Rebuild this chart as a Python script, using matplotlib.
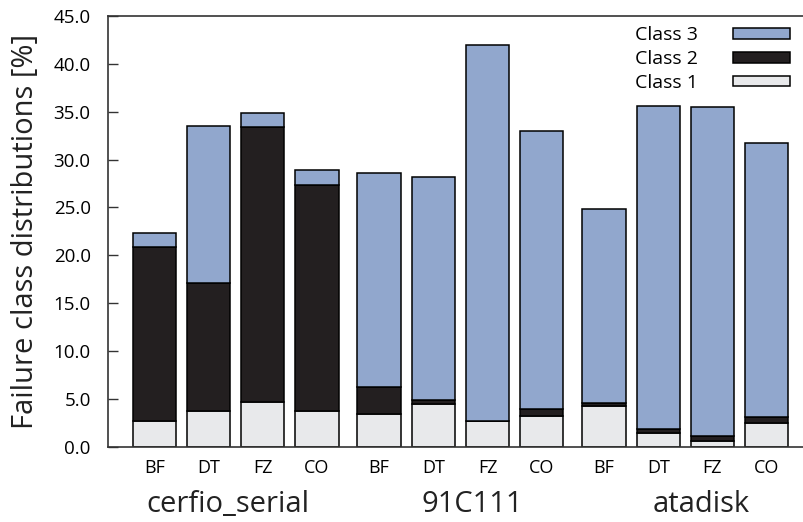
import numpy as np
import matplotlib
matplotlib.use("Agg")
import matplotlib.pyplot as plt
from matplotlib.patches import Patch
from matplotlib.transforms import blended_transform_factory

plt.rcParams['font.family'] = ['Open Sans', 'DejaVu Sans']

# Drivers (groups) and injection techniques (bars within each group)
drivers = ["cerfio_serial", "91C111", "atadisk"]
techniques = ["BF", "DT", "FZ", "CO"]

# Stacked percentages per bar, in driver order (BF, DT, FZ, CO for each driver)
class1 = [2.7, 3.7, 4.7, 3.7,
          3.4, 4.5, 2.7, 3.2,
          4.3, 1.4, 0.6, 2.5]
class2 = [18.2, 13.4, 28.7, 23.6,
          2.8, 0.4, 0.0, 0.7,
          0.3, 0.45, 0.5, 0.6]
class3 = [1.4, 16.4, 1.5, 1.6,
          22.4, 23.3, 39.3, 29.1,
          20.2, 33.7, 34.4, 28.6]

series_names = ["Class 1", "Class 2", "Class 3"]
colors = ["#e8e9eb", "#231f20", "#91a7cd"]

group_step = len(techniques) + 0.15
x = np.array([g * group_step + j for g in range(len(drivers))
              for j in range(len(techniques))])

fig = plt.figure(figsize=(8.04, 5.22), dpi=100)
ax = fig.add_axes([108 / 804, 1 - 446.7 / 522, 696 / 804, 430.7 / 522])

bottom = np.zeros(len(x))
handles = []
for vals, name, col in zip([class1, class2, class3], series_names, colors):
    vals = np.array(vals)
    ax.bar(x, vals, width=0.8, bottom=bottom, color=col,
           edgecolor="black", linewidth=1.1, label=name)
    bottom += vals
    handles.append(Patch(facecolor=col, edgecolor="black", linewidth=1.1, label=name))

ax.set_xlim(-0.854, 11.99)
ax.set_ylim(0, 45)
yt = np.arange(0, 45.1, 5)
ax.set_yticks(yt)
ax.set_yticklabels([f"{v:.1f}" for v in yt], fontsize=13.5)
ax.tick_params(axis="y", direction="in", length=7.5, width=1.0, pad=12.5,
               colors="#333333", labelcolor="black")
ax.set_xticks(x)
ax.set_xticklabels(techniques * len(drivers), fontsize=13)
ax.tick_params(axis="x", length=0, pad=9)

for side in ["top", "bottom", "left"]:
    ax.spines[side].set_linewidth(1.2)
    ax.spines[side].set_color("#333333")
ax.spines["right"].set_visible(False)

ax.set_ylabel("Failure class distributions [%]", fontsize=21, color="#222222")
ax.yaxis.set_label_coords(-0.0977, 0.5)

# Driver names under each group of bars
trans = blended_transform_factory(ax.transData, ax.transAxes)
title_shift = [-0.14, 0.21, 0.30]
for g, name in enumerate(drivers):
    cx = g * group_step + (len(techniques) - 1) / 2 + title_shift[g]
    ax.text(cx, -0.151, name, transform=trans, ha="center", va="baseline",
            fontsize=21, color="#222222")

leg = ax.legend(handles=handles[::-1], loc="upper right",
                bbox_to_anchor=(0.98, 0.976), frameon=False, markerfirst=False,
                fontsize=14, handlelength=2.94, handleheight=0.46,
                handletextpad=1.8, labelspacing=0.30, borderpad=0,
                borderaxespad=0)

fig.savefig("out.png", dpi=100)
